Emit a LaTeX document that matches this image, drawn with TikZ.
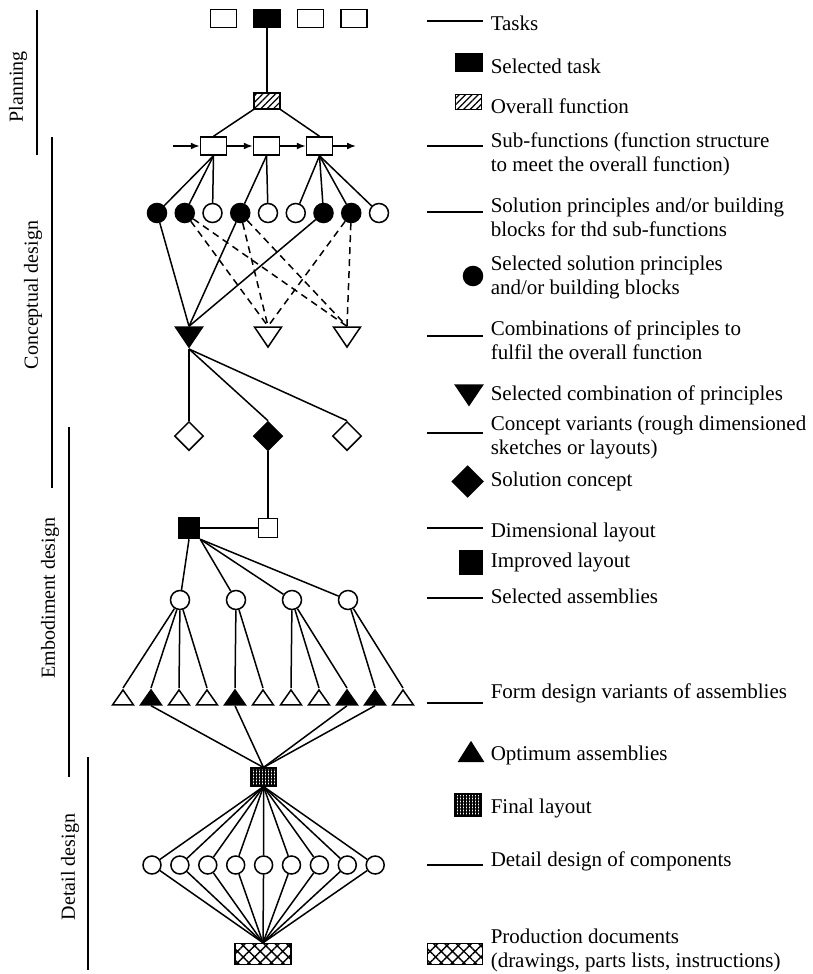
\documentclass[tikz,border=0pt]{standalone}
\usepackage{fontspec}
\setmainfont{Liberation Serif}
\usetikzlibrary{shapes.geometric,patterns.meta,arrows.meta}

\begin{document}
\begin{tikzpicture}[x=1pt, y=-1pt, line width=1.5pt,
  box/.style = {draw, inner sep=0pt, minimum width=26pt, minimum height=18pt},
  dot/.style = {draw, circle, inner sep=0pt, minimum size=19pt},
  tri/.style = {draw, isosceles triangle, isosceles triangle stretches, shape border rotate=90, inner sep=0pt, minimum width=21pt, minimum height=15pt},
  vee/.style = {draw, isosceles triangle, isosceles triangle stretches, shape border rotate=270, inner sep=0pt, minimum width=27pt, minimum height=20pt},
  gem/.style = {draw, diamond, inner sep=0pt, minimum size=29pt},
  full/.style = {fill=black},
  hatched/.style = {pattern={Lines[angle=45,distance=4.5pt,line width=1.2pt]}},
  grainy/.style = {pattern={Hatch[angle=0,distance=3pt,line width=1.1pt]}},
  crossed/.style = {pattern={Hatch[angle=45,distance=8pt,line width=1.4pt]}},
  arr/.style = {-{Latex[length=9pt,width=7pt]}},
  alt/.style = {dash pattern=on 7pt off 5pt},
  legline/.style = {line width=2.8pt},
  bar/.style = {line width=2.8pt},
  legtext/.style = {anchor=base west, align=left, inner sep=0pt, font=\fontsize{21}{24}\selectfont},
  phase/.style = {rotate=90, inner sep=0pt, font=\fontsize{20}{24}\selectfont}]

\useasboundingbox (0,0) rectangle (812,974);

% phases
\node[phase] (ph1) at (18,87) {Planning};
\node[phase] (ph2) at (33,295) {Conceptual design};
\node[phase] (ph3) at (50,598) {Embodiment design};
\node[phase] (ph4) at (70,867) {Detail design};
\draw[bar] (37,10) -- (37,155);
\draw[bar] (52,137) -- (52,488);
\draw[bar] (69,427) -- (69,777);
\draw[bar] (88,757) -- (88,970);

% tasks and functions
\begin{scope}[node distance=43.5pt]
\node[box] (t1) at (223.5,18.5) {};
\node[box, full] (t2) [right of=t1] {};
\node[box] (t3) [right of=t2] {};
\node[box] (t4) [right of=t3] {};
\end{scope}
\node[box, hatched, minimum height=16pt] (f) at (267,101) {};
\begin{scope}[node distance=53pt]
\node[box] (s1) at (213.5,146) {};
\node[box] (s2) [right of=s1] {};
\node[box] (s3) [right of=s2] {};
\end{scope}
\coordinate (in) at (173,146);
\coordinate (out) at (356,146);

% solution principles
\begin{scope}[node distance=27.75pt]
\node[dot, full] (p1) at (157,213) {};
\node[dot, full] (p2) [right of=p1] {};
\node[dot] (p3) [right of=p2] {};
\node[dot, full] (p4) [right of=p3] {};
\node[dot] (p5) [right of=p4] {};
\node[dot] (p6) [right of=p5] {};
\node[dot, full] (p7) [right of=p6] {};
\node[dot, full] (p8) [right of=p7] {};
\node[dot] (p9) [right of=p8] {};
\end{scope}

% combinations and concepts
\begin{scope}[node distance=79pt]
\node[vee, full, anchor=apex] (c1) at (189,349) {};
\node[vee] (c2) [right of=c1] {};
\node[vee] (c3) [right of=c2] {};
\node[gem] (v1) at (189,436) {};
\node[gem, full] (v2) [right of=v1] {};
\node[gem] (v3) [right of=v2] {};
\node[box, full, minimum width=21pt, minimum height=21pt] (d1) at (189,528) {};
\node[box, minimum width=19pt, minimum height=19pt] (d2) [right of=d1] {};
\end{scope}

% assemblies
\begin{scope}[node distance=56pt]
\node[dot] (a1) at (180,600) {};
\node[dot] (a2) [right of=a1] {};
\node[dot] (a3) [right of=a2] {};
\node[dot] (a4) [right of=a3] {};
\end{scope}
\begin{scope}[node distance=28pt]
\node[tri, anchor=apex] (g1) at (123,688) {};
\node[tri, full] (g2) [right of=g1] {};
\node[tri] (g3) [right of=g2] {};
\node[tri] (g4) [right of=g3] {};
\node[tri, full] (g5) [right of=g4] {};
\node[tri] (g6) [right of=g5] {};
\node[tri] (g7) [right of=g6] {};
\node[tri] (g8) [right of=g7] {};
\node[tri, full] (g9) [right of=g8] {};
\node[tri, full] (g10) [right of=g9] {};
\node[tri] (g11) [right of=g10] {};
\end{scope}
\node[box, grainy] (fl) at (263.5,777) {};

% components
\begin{scope}[node distance=27.9pt]
\node[dot, minimum size=18pt] (k1) at (152,865) {};
\node[dot, minimum size=18pt] (k2) [right of=k1] {};
\node[dot, minimum size=18pt] (k3) [right of=k2] {};
\node[dot, minimum size=18pt] (k4) [right of=k3] {};
\node[dot, minimum size=18pt] (k5) [right of=k4] {};
\node[dot, minimum size=18pt] (k6) [right of=k5] {};
\node[dot, minimum size=18pt] (k7) [right of=k6] {};
\node[dot, minimum size=18pt] (k8) [right of=k7] {};
\node[dot, minimum size=18pt] (k9) [right of=k8] {};
\end{scope}
\node[box, crossed, minimum width=56pt, minimum height=21pt] (pd) at (263,954) {};

% connections
\draw (t2) -- (f);
\draw (f.south west) -- (s1.north);
\draw (f.south east) -- (s3.north);
\draw[arr] (in) -- (s1);
\draw[arr] (s1) -- (s2);
\draw[arr] (s2) -- (s3);
\draw[arr] (s3) -- (out);
\draw (s1.south) -- (p1);
\draw (s1.south) -- (p2);
\draw (s1.south) -- (p3);
\draw (s2.south) -- (p4);
\draw (s2.south) -- (p5);
\draw (s3.south) -- (p6);
\draw (s3.south) -- (p7);
\draw (s3.south) -- (p8);
\draw (s3.south) -- (p9);
\draw (p1) -- (c1.lower side);
\draw (p4) -- (c1.lower side);
\draw (p7) -- (c1.lower side);
\draw[alt] (p2) -- (c2.lower side);
\draw[alt] (p2) -- (c3.lower side);
\draw[alt] (p4) -- (c2.lower side);
\draw[alt] (p4) -- (c3.lower side);
\draw[alt] (p8) -- (c2.lower side);
\draw[alt] (p8) -- (c3.lower side);
\draw (c1.apex) -- (v1.north);
\draw (c1.apex) -- (v2.north);
\draw (c1.apex) -- (v3.north);
\draw (v2.south) -- (d2.north);
\draw (d1) -- (d2);
\draw (d1.south) -- (a1);
\draw (d1.south east) -- (a2);
\draw (d1.south east) -- (a3);
\draw (d1.south east) -- (a4);
\draw (a1) -- (g1.apex);
\draw (a1) -- (g2.apex);
\draw (a1) -- (g3.apex);
\draw (a1) -- (g4.apex);
\draw (a2) -- (g5.apex);
\draw (a2) -- (g6.apex);
\draw (a3) -- (g7.apex);
\draw (a3) -- (g8.apex);
\draw (a3) -- (g9.apex);
\draw (a4) -- (g10.apex);
\draw (a4) -- (g11.apex);
\draw (g2.lower side) -- (fl.north);
\draw (g5.lower side) -- (fl.north);
\draw (g9.lower side) -- (fl.north);
\draw (g10.lower side) -- (fl.north);
\draw (fl.south) -- (k1);
\draw (fl.south) -- (k2);
\draw (fl.south) -- (k3);
\draw (fl.south) -- (k4);
\draw (fl.south) -- (k5);
\draw (fl.south) -- (k6);
\draw (fl.south) -- (k7);
\draw (fl.south) -- (k8);
\draw (fl.south) -- (k9);
\draw (k1) -- (pd.north);
\draw (k2) -- (pd.north);
\draw (k3) -- (pd.north);
\draw (k4) -- (pd.north);
\draw (k5) -- (pd.north);
\draw (k6) -- (pd.north);
\draw (k7) -- (pd.north);
\draw (k8) -- (pd.north);
\draw (k9) -- (pd.north);

% legend
\draw[legline] (427,21) -- (483,21);
\draw[legline] (427,146) -- (483,146);
\draw[legline] (427,212) -- (483,212);
\draw[legline] (427,336) -- (483,336);
\draw[legline] (427,433) -- (483,433);
\draw[legline] (427,528) -- (483,528);
\draw[legline] (427,598) -- (483,598);
\draw[legline] (427,703) -- (483,703);
\draw[legline] (427,865) -- (483,865);
\node[box, full, minimum width=27pt] (ktask) at (469,62.5) {};
\node[box, hatched, minimum height=15pt] (kfun) at (468.5,102) {};
\node[dot, full] (kdot) at (473,276) {};
\node[vee, full, anchor=apex] (kvee) at (469,407) {};
\node[gem, full, minimum size=31pt] (kgem) at (467.5,481.5) {};
\node[box, full, minimum width=23pt, minimum height=23pt] (klay) at (471,562.5) {};
\node[tri, full, anchor=lower side, minimum width=24pt, minimum height=19pt] (ktri) at (471,762) {};
\node[box, grainy, minimum height=22pt] (kfin) at (468,805) {};
\node[box, crossed, minimum width=55pt, minimum height=21pt] (kdoc) at (455,954) {};
\node[legtext] (l1) at (490,30.5) {Tasks};
\node[legtext] (l2) at (490,74) {Selected task};
\node[legtext] (l3) at (490,113) {Overall function};
\node[legtext] (l4) at (490,171) {Sub-functions (function structure\\to meet the overall function)};
\node[legtext] (l5) at (490,236) {Solution principles and/or building\\blocks for thd sub-functions};
\node[legtext] (l6) at (490,294) {Selected solution principles\\and/or building blocks};
\node[legtext] (l7) at (490,359) {Combinations of principles to\\fulfil the overall function};
\node[legtext] (l8) at (490,400) {Selected combination of principles};
\node[legtext] (l9) at (490,454) {Concept variants (rough dimensioned\\sketches or layouts)};
\node[legtext] (l10) at (490,486) {Solution concept};
\node[legtext] (l11) at (490,537) {Dimensional layout};
\node[legtext] (l12) at (490,567) {Improved layout};
\node[legtext] (l13) at (490,603) {Selected assemblies};
\node[legtext] (l14) at (490,698) {Form design variants of assemblies};
\node[legtext] (l15) at (490,760) {Optimum assemblies};
\node[legtext] (l16) at (490,813) {Final layout};
\node[legtext] (l17) at (490,866) {Detail design of components};
\node[legtext] (l18) at (490,967) {Production documents\\(drawings, parts lists, instructions)};
\end{tikzpicture}
\end{document}
